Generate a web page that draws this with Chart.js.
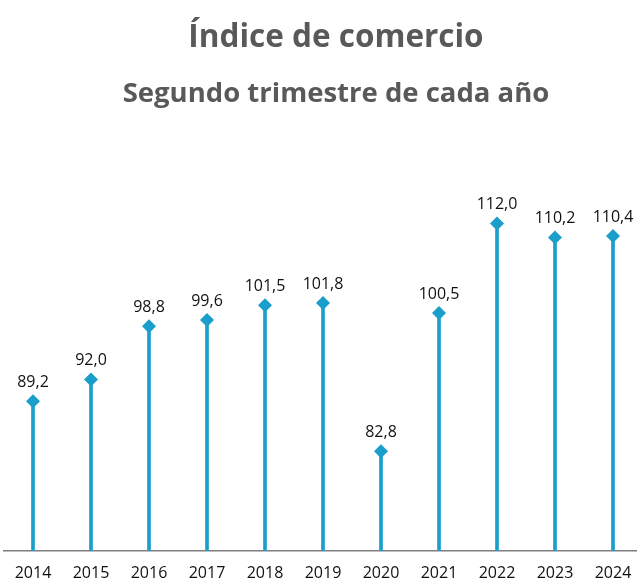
<!DOCTYPE html>
<html>
<head>
<meta charset="utf-8">
<script src="https://cdn.jsdelivr.net/npm/chart.js@4/dist/chart.umd.min.js"></script>
<style>
  html, body { margin: 0; padding: 0; background: #fff; overflow: hidden; }
  #c { display: block; }
</style>
</head>
<body>
<canvas id="c" width="644" height="580" style="width:644px;height:580px"></canvas>
<script>
const categories = ['2014','2015','2016','2017','2018','2019','2020','2021','2022','2023','2024'];
const values = [89.2, 92.0, 98.8, 99.6, 101.5, 101.8, 82.8, 100.5, 112.0, 110.2, 110.4];
const titleText = 'Índice de comercio';
const subtitleText = 'Segundo trimestre de cada año';
const yMin = 70;
const yMax = 120;

const color = '#1a9fcb';

const fmt = v => v.toFixed(1).replace('.', ',');

const titlePlugin = {
  id: 'titles',
  afterDraw(chart) {
    const ctx = chart.ctx;
    ctx.save();
    ctx.fillStyle = '#58595b';
    ctx.textAlign = 'center';
    ctx.textBaseline = 'alphabetic';
    ctx.font = 'bold 31.5px "Open Sans"';
    ctx.fillText(titleText, 336, 47);
    ctx.font = 'bold 27.5px "Open Sans"';
    ctx.fillText(subtitleText, 336, 102);
    ctx.restore();
  }
};

// Fix the horizontal extent of the plot area (category band of 58px starting at x=4)
const areaPlugin = {
  id: 'areaFix',
  afterLayout(chart) {
    const x = chart.scales.x;
    const L = 4, R = 642;
    x.left = L; x.right = R; x.width = R - L;
    x.configure();
    chart.chartArea.left = L;
    chart.chartArea.right = R;
    chart.chartArea.width = R - L;
  }
};

const labelPlugin = {
  id: 'valueLabels',
  afterDatasetsDraw(chart) {
    const ctx = chart.ctx;
    const meta = chart.getDatasetMeta(1);
    ctx.save();
    ctx.fillStyle = '#111';
    ctx.font = '16px "Open Sans"';
    ctx.textAlign = 'center';
    ctx.textBaseline = 'alphabetic';
    meta.data.forEach((pt, i) => {
      ctx.fillText(fmt(values[i]), pt.x, pt.y - 14);
    });
    ctx.restore();
  }
};

new Chart(document.getElementById('c'), {
  data: {
    labels: categories,
    datasets: [
      {
        type: 'bar',
        data: values.map(v => [yMin, v]),
        backgroundColor: color,
        barThickness: 3,
        borderWidth: 0
      },
      {
        type: 'line',
        data: values,
        showLine: false,
        pointStyle: 'rectRot',
        pointRadius: 7,
        pointHoverRadius: 7,
        pointBackgroundColor: color,
        pointBorderColor: color,
        pointBorderWidth: 0
      }
    ]
  },
  options: {
    responsive: false,
    maintainAspectRatio: false,
    animation: false,
    devicePixelRatio: 1,
    events: [],
    layout: { padding: { top: 161, left: 4, right: 0, bottom: 0 } },
    plugins: {
      legend: { display: false },
      tooltip: { enabled: false },
      title: { display: false }
    },
    scales: {
      x: {
        offset: true,
        grid: { display: true, drawOnChartArea: false, drawTicks: false },
        border: { display: true, color: '#7f7f7f', width: 1.5 },
        ticks: { color: '#111', font: { family: 'Open Sans', size: 16 }, padding: 13, maxRotation: 0, autoSkip: false },
        afterFit(scale) { scale.height = 29; }
      },
      y: {
        display: false,
        min: yMin,
        max: yMax
      }
    }
  },
  plugins: [areaPlugin, titlePlugin, labelPlugin]
});
</script>
</body>
</html>
